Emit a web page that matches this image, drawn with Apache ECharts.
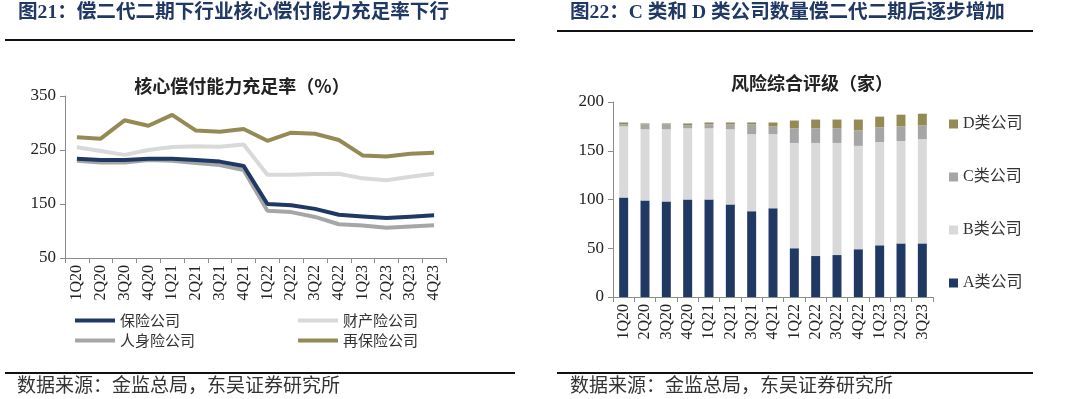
<!DOCTYPE html>
<html>
<head>
<meta charset="utf-8">
<script src="https://cdn.jsdelivr.net/npm/echarts@6/dist/echarts.min.js"></script>
<style>
  html, body { margin: 0; padding: 0; background: #fff; }
  #main { width: 1080px; height: 399px; }
</style>
</head>
<body>
<div id="main"></div>
<script>
// 图21 核心偿付能力充足率（%）
var quarters = ["1Q20", "2Q20", "3Q20", "4Q20", "1Q21", "2Q21", "3Q21", "4Q21",
  "1Q22", "2Q22", "3Q22", "4Q22", "1Q23", "2Q23", "3Q23", "4Q23"];
var insurerAll = [234, 231.5, 231.5, 234, 234, 231.5, 228.5, 220.5, 150, 147.5, 141, 130, 127, 124, 126.5, 129];
var propertyIns = [255, 248, 241, 250, 255.5, 257, 256, 260, 204, 204, 205.5, 206, 197.5, 194, 200.5, 206];
var lifeIns = [230, 227, 227, 231.5, 230, 226, 222, 213, 137.5, 135, 126, 112.5, 110, 106, 108.5, 110.5];
var reIns = [273.5, 271, 305, 295, 315, 286, 284, 289, 267, 282, 280, 268.5, 240, 238, 243, 245];
var lineTicks = [50, 150, 250, 350];

// 图22 风险综合评级（家）
var ratingQuarters = ["1Q20", "2Q20", "3Q20", "4Q20", "1Q21", "2Q21", "3Q21", "4Q21",
  "1Q22", "2Q22", "3Q22", "4Q22", "1Q23", "2Q23", "3Q23"];
var classA = [102, 99, 98, 100, 100, 95, 88, 91, 50, 42, 43, 49, 53, 55, 55];
var classB = [73, 73, 74, 73, 73, 77, 79, 76, 108, 116, 115, 106, 106, 105, 107];
var classC = [2, 5, 5, 3, 4, 5, 10, 8, 15, 15, 15, 16, 15, 15, 14];
var classD = [2, 1, 1, 2, 2, 2, 2, 4, 8, 9, 9, 11, 11, 12, 12];
var barTicks = [0, 50, 100, 150, 200];

var NAVY = "#1f3864", LIGHT = "#d9d9d9", GRAY = "#a6a6a6", OLIVE = "#948a54";
var serif = "'Liberation Serif', 'Noto Sans CJK SC', serif";
var cjk = "'Noto Sans CJK SC', sans-serif";

var myChart = echarts.init(document.getElementById("main"));

function catAxis(gridIndex, data) {
  return {
    type: "category",
    gridIndex: gridIndex,
    data: data,
    boundaryGap: true,
    axisLine: { lineStyle: { color: "#8c8c8c", width: 1 } },
    axisTick: { show: true, length: 5, lineStyle: { color: "#8c8c8c" } },
    axisLabel: { rotate: 90, color: "#222", fontFamily: serif, fontSize: 16, margin: 7, interval: 0 }
  };
}
function valAxis(gridIndex, ticks) {
  return {
    type: "value",
    gridIndex: gridIndex,
    min: ticks[0],
    max: ticks[ticks.length - 1],
    interval: ticks[1] - ticks[0],
    axisLine: { show: true, lineStyle: { color: "#8c8c8c", width: 1 } },
    axisTick: { show: true, length: 5, lineStyle: { color: "#8c8c8c" } },
    axisLabel: { color: "#222", fontFamily: serif, fontSize: 17, margin: 9 },
    splitLine: { show: false }
  };
}
function lineSeries(name, data, color, z) {
  return {
    name: name, type: "line", xAxisIndex: 0, yAxisIndex: 0,
    data: data, symbol: "none", z: z,
    lineStyle: { color: color, width: 4 },
    itemStyle: { color: color }
  };
}
function barSeries(name, data, color) {
  return {
    name: name, type: "bar", xAxisIndex: 1, yAxisIndex: 1,
    stack: "rating", data: data, barWidth: "42%",
    itemStyle: { color: color }
  };
}

var legendText = { color: "#333", fontFamily: cjk, fontSize: 15 };

myChart.setOption({
  animation: false,
  title: [
    { text: "核心偿付能力充足率（%）", left: 237, top: 72, textAlign: "center",
      textStyle: { fontFamily: cjk, fontSize: 18, fontWeight: "bold", color: "#222" } },
    { text: "风险综合评级（家）", left: 807, top: 69, textAlign: "center",
      textStyle: { fontFamily: cjk, fontSize: 18, fontWeight: "bold", color: "#222" } }
  ],
  grid: [
    { left: 65, right: 634, top: 96, bottom: 141 },
    { left: 613, right: 147, top: 102, bottom: 102 }
  ],
  xAxis: [catAxis(0, quarters), catAxis(1, ratingQuarters)],
  yAxis: [valAxis(0, lineTicks), valAxis(1, barTicks)],
  legend: [
    { data: ["保险公司", "财产险公司"], left: 70, top: 308, orient: "horizontal",
      icon: "rect", itemWidth: 40, itemHeight: 4, itemGap: 118, textStyle: legendText },
    { data: ["人身险公司", "再保险公司"], left: 70, top: 328, orient: "horizontal",
      icon: "rect", itemWidth: 40, itemHeight: 4, itemGap: 103, textStyle: legendText },
    { data: ["D类公司", "C类公司", "B类公司", "A类公司"], left: 944, top: 109, orient: "vertical",
      icon: "rect", itemWidth: 9, itemHeight: 9, itemGap: 33,
      textStyle: { color: "#333", fontFamily: serif, fontSize: 16, lineHeight: 20 } }
  ],
  graphic: [
    { type: "text", left: 18, top: 3,
      style: { text: "图21：偿二代二期下行业核心偿付能力充足率下行", fill: "#1f3864",
        font: "bold 19.6px " + serif } },
    { type: "rect", shape: { x: 5, y: 39, width: 510, height: 2 }, style: { fill: "#111" } },
    { type: "text", left: 570, top: 3,
      style: { text: "图22：C 类和 D 类公司数量偿二代二期后逐步增加", fill: "#1f3864",
        font: "bold 19.6px " + serif } },
    { type: "rect", shape: { x: 557, y: 30, width: 476, height: 2 }, style: { fill: "#111" } },
    { type: "rect", shape: { x: 5, y: 372, width: 510, height: 2 }, style: { fill: "#111" } },
    { type: "rect", shape: { x: 557, y: 372, width: 476, height: 2 }, style: { fill: "#111" } },
    { type: "text", left: 17, top: 375,
      style: { text: "数据来源：金监总局，东吴证券研究所", fill: "#333", font: "19px " + cjk } },
    { type: "text", left: 570, top: 375,
      style: { text: "数据来源：金监总局，东吴证券研究所", fill: "#333", font: "19px " + cjk } }
  ],
  series: [
    lineSeries("保险公司", insurerAll, NAVY, 4),
    lineSeries("财产险公司", propertyIns, LIGHT, 2),
    lineSeries("人身险公司", lifeIns, GRAY, 3),
    lineSeries("再保险公司", reIns, OLIVE, 2),
    barSeries("A类公司", classA, NAVY),
    barSeries("B类公司", classB, LIGHT),
    barSeries("C类公司", classC, GRAY),
    barSeries("D类公司", classD, OLIVE)
  ]
});
</script>
</body>
</html>
